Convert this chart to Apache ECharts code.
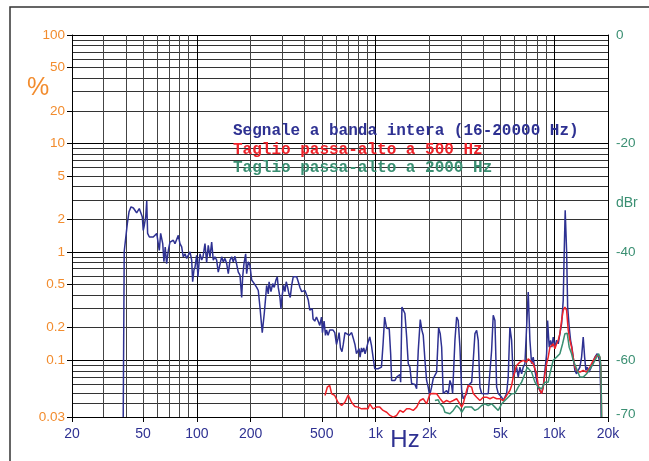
<!DOCTYPE html>
<html><head><meta charset="utf-8">
<script src="https://cdn.jsdelivr.net/npm/echarts@6/dist/echarts.min.js"></script>
<style>html,body{margin:0;padding:0;background:#fff}#c{width:649px;height:461px}</style>
</head><body><div id="c"></div>
<script>
// ---- tick / grid values ----
const xGridValues = [20,30,40,50,60,70,80,90,100,200,300,400,500,600,700,800,900,1000,2000,3000,4000,5000,6000,7000,8000,9000,10000,20000];
const xTickLabels = [20,50,100,200,500,1000,2000,5000,10000,20000];
const yGridValues = [0.03,0.04,0.05,0.06,0.07,0.08,0.09,0.1,0.2,0.3,0.4,0.5,0.6,0.7,0.8,0.9,1,2,3,4,5,6,7,8,9,10,20,30,40,50,60,70,80,90,100];
const yTickLabels = [0.03,0.1,0.2,0.5,1,2,5,10,20,50,100];
const dbTickLabels = [0,-20,-40,-60,-70];

// ---- series names ----
const nameFull = 'Segnale a banda intera (16-20000 Hz)';
const name500 = 'Taglio passa-alto a 500 Hz';
const name2000 = 'Taglio passa-alto a 2000 Hz';

// ---- full band signal (Hz, %) ----
const fullFreq = [38.7,39.2,40.1,40.8,41.7,42.8,44.1,45.0,46.0,47.6,48.7,49.5,50.1,50.8,51.7,52.4,53.0,54.2,55.6,57.0,58.3,59.6,60.8,61.6,62.7,63.5,64.4,65.4,66.5,67.7,69.2,70.7,72.3,73.8,75.4,77.1,78.7,80.4,82.2,83.9,85.8,87.7,89.5,91.5,93.5,94.7,96.3,97.6,99.7,101.4,103.1,104.1,106.4,108.2,111.0,113.4,115.8,118.4,121.0,123.5,126.2,129.0,131.7,137.6,140.5,143.6,146.8,149.9,153.2,156.6,159.8,163.4,167.0,170.5,174.3,178.1,180.4,183.5,187.5,189.9,193.9,198.2,202.6,209.5,216.1,220.6,225.4,232.2,238.3,242.6,245.7,250.9,253.6,259.8,265.6,271.0,277.1,281.8,285.4,291.7,295.5,300.4,306.0,311.2,316.4,322.2,327.6,333.1,339.2,346.3,361.8,369.4,377.5,385.9,393.9,402.6,411.5,420.1,428.4,442.3,447.0,456.9,467.0,476.8,487.3,498.1,504.6,515.1,524.5,531.3,542.4,554.4,578.4,591.3,604.4,616.9,625,636.4,648.6,659.6,674.2,689.1,712.6,734.9,750.1,766.8,782.0,798.1,808.5,819.0,834.1,844.9,859,873.7,889.5,908.1,928.2,948.7,968.5,989.9,1012,1033,1056,1079,1102,1124,1154,1178,1193,1215,1230,1256,1284,1312,1340,1369,1382,1405,1429,1460,1493,1524,1557,1592,1625,1661,1698,1734,1779,1818,1849,1890,1931,1971,2007,2059,2102,2149,2197,2254,2301,2344,2392,2445,2499,2552,2608,2666,2700,2782,2843,2902,2967,3033,3095,3164,3234,3302,3375,3450,3522,3600,3680,3756,3839,3924,4094,4272,4367,4463,4557,4658,4761,4861,4968,5078,5183,5298,5415,5527,5649,5775,5895,6026,6159,6288,6427,6569,6707,6855,7007,7154,7311,7473,7628,7798,7971,8136,8317,8501,8678,8871,9068,9183,9376,9545,9706,9871,10090,10310,10530,10760,11000,11230,11380,11520,11730,11890,12130,12350,12560,12770,13050,13340,13620,13920,14230,14530,14800,15040,15300,15640,15980,16400,16890,17400,17720,18020,18180,18320];
const fullPct = [0.03,1.01,1.03,1.82,2.34,2.60,2.54,2.42,2.29,2.51,2.60,2.10,1.58,1.76,2.10,2.95,1.48,1.37,1.42,1.37,1.33,1.48,1.53,1.03,1.48,1.53,1.19,0.81,1.11,0.78,1.03,1.23,1.19,1.28,1.19,1.15,1.42,1.19,1.11,0.90,0.96,0.87,0.90,1.0,0.84,0.53,0.68,0.72,0.93,0.59,0.84,0.96,0.84,0.90,1.19,0.80,1.15,0.90,1.23,0.84,0.90,0.84,0.65,0.90,0.81,0.87,0.78,0.63,0.84,0.90,0.81,0.91,0.91,0.65,0.61,0.38,0.59,0.78,0.96,0.63,0.81,0.75,0.55,0.51,0.47,0.44,0.31,0.18,0.27,0.38,0.49,0.41,0.53,0.43,0.51,0.47,0.55,0.59,0.47,0.38,0.30,0.40,0.49,0.43,0.53,0.47,0.41,0.38,0.49,0.59,0.59,0.53,0.47,0.43,0.44,0.44,0.40,0.36,0.29,0.30,0.24,0.23,0.25,0.23,0.21,0.25,0.18,0.23,0.17,0.19,0.17,0.19,0.19,0.18,0.14,0.16,0.18,0.13,0.12,0.14,0.18,0.18,0.17,0.18,0.16,0.14,0.115,0.111,0.128,0.107,0.13,0.119,0.13,0.115,0.128,0.147,0.164,0.137,0.107,0.0836,0.0806,0.0836,0.0806,0.0865,0.142,0.25,0.197,0.19,0.195,0.115,0.0652,0.0629,0.0652,0.070,0.0675,0.074,0.0629,0.31,0.31,0.27,0.164,0.093,0.0865,0.061,0.0586,0.0598,0.0548,0.123,0.237,0.189,0.17,0.10,0.0652,0.0565,0.0474,0.0565,0.0676,0.0725,0.0778,0.20,0.176,0.132,0.0494,0.0494,0.0527,0.0491,0.0652,0.0586,0.0494,0.153,0.25,0.233,0.132,0.0527,0.0442,0.0426,0.0491,0.0586,0.0608,0.0629,0.0997,0.176,0.189,0.153,0.0565,0.0494,0.0491,0.0491,0.0491,0.123,0.26,0.233,0.0565,0.0494,0.0491,0.0457,0.0426,0.0457,0.0494,0.070,0.2025,0.153,0.070,0.0676,0.0865,0.070,0.0865,0.0751,0.0865,0.093,0.093,0.426,0.153,0.093,0.107,0.0806,0.0652,0.0565,0.0527,0.0494,0.0565,0.0806,0.115,0.233,0.132,0.153,0.132,0.164,0.132,0.153,0.142,0.176,0.218,0.357,1.03,2.42,1.03,0.31,0.2025,0.153,0.132,0.107,0.0806,0.0751,0.0806,0.0865,0.107,0.164,0.107,0.0806,0.0865,0.0778,0.0836,0.093,0.107,0.115,0.107,0.093,0.0565,0.03];

// ---- high-pass 500 Hz (Hz, %) ----
const hp500Freq = [521,537,554,568,591,617,646,674,703,735,767,798,834,872,908,928,949,968,1012,1056,1102,1154,1204,1256,1312,1369,1429,1493,1557,1625,1698,1772,1849,1931,2016,2102,2197,2292,2392,2499,2608,2722,2843,2967,3033,3095,3164,3234,3302,3375,3450,3522,3680,3839,3924,4005,4184,4367,4557,4761,4968,5183,5415,5649,5775,5895,6159,6427,6707,7007,7154,7311,7628,7971,8136,8317,8501,8678,8871,9068,9257,9461,9871,10090,10310,10530,10760,11000,11230,11480,11730,11980,12240,12510,12770,13050,13340,13620,13920,14530,15190,15840,16530,17270,17720,18020,18250,18420];
const hp500Pct = [0.0474,0.0565,0.0586,0.0491,0.0474,0.0408,0.0383,0.0411,0.0479,0.0408,0.0375,0.0370,0.0357,0.0359,0.0357,0.0397,0.0411,0.0357,0.0370,0.0370,0.0345,0.0332,0.0310,0.0299,0.0310,0.0345,0.0332,0.0357,0.0357,0.0345,0.0370,0.0426,0.0442,0.0397,0.0491,0.0494,0.0491,0.0445,0.0408,0.0426,0.0411,0.0426,0.0442,0.0397,0.0370,0.0397,0.0457,0.0527,0.0586,0.0586,0.0565,0.0494,0.0457,0.0426,0.0442,0.0457,0.0457,0.0442,0.0457,0.0442,0.0442,0.0426,0.0474,0.0527,0.0586,0.070,0.0897,0.0962,0.10,0.0962,0.1034,0.10,0.093,0.0751,0.0586,0.0527,0.0494,0.0565,0.0751,0.093,0.107,0.132,0.142,0.128,0.142,0.153,0.176,0.233,0.289,0.31,0.289,0.19,0.153,0.132,0.107,0.0865,0.0806,0.0778,0.0778,0.0806,0.0778,0.0865,0.10,0.111,0.115,0.107,0.0865,0.03];

// ---- high-pass 2000 Hz (Hz, %) ----
const hp2000Freq = [2149,2243,2292,2392,2445,2499,2608,2722,2843,2967,3033,3095,3164,3302,3450,3600,3680,3756,3924,4094,4272,4463,4658,4861,4968,5078,5298,5527,5775,6026,6288,6569,6855,7063,7247,7473,7798,8136,8501,8871,9257,9461,9871,10310,10760,11140,11480,11820,12130,12510,12770,13340,13920,14530,15190,15840,16530,17270,17720,18020,18250,18420];
const hp2000Pct = [0.0426,0.0433,0.0397,0.0370,0.0332,0.0321,0.0321,0.0345,0.0383,0.0357,0.0332,0.0332,0.0370,0.0370,0.0370,0.0345,0.0332,0.0357,0.0383,0.0397,0.0383,0.0397,0.0370,0.0345,0.0357,0.0397,0.0426,0.0457,0.0491,0.0494,0.0565,0.0629,0.0751,0.0865,0.0897,0.0778,0.0629,0.0565,0.0546,0.0629,0.0629,0.0751,0.10,0.107,0.115,0.142,0.176,0.178,0.132,0.115,0.10,0.0836,0.070,0.070,0.0751,0.0836,0.093,0.107,0.115,0.107,0.0865,0.03];

const zip = (a, b) => a.map((v, i) => [v, b[i]]);
const BLUE = '#2e3192', RED = '#ee2229', GREEN = '#3a8f72', ORANGE = '#f28c2e';
const isDecade = v => Math.abs(Math.log10(v) - Math.round(Math.log10(v))) < 1e-9;
const xGridColors = xGridValues.map(v => isDecade(v) ? '#000' : '#444');
const yGridColors = yGridValues.map(v => isDecade(v) ? '#000' : '#333');
const clean = v => Number(Number(v).toPrecision(6));
const fmtHz = v => { v = clean(v); return v >= 1000 ? (v / 1000) + 'k' : String(v); };
const dbMin = 20 * Math.log10(0.03 / 100);

const chart = echarts.init(document.getElementById('c'), null, {renderer: 'canvas'});
chart.setOption({
  animation: false,
  backgroundColor: '#fff',
  grid: {left: 72, right: 41, top: 35, bottom: 44, containLabel: false},
  legend: {
    orient: 'vertical', left: 223, top: 117, icon: 'none', itemWidth: 0, itemHeight: 10, itemGap: 0,
    selectedMode: false,
    textStyle: {fontFamily: 'Liberation Mono', fontWeight: 'bold', fontSize: 16, lineHeight: 18.5},
    data: [
      {name: nameFull, textStyle: {color: BLUE}},
      {name: name500, textStyle: {color: RED}},
      {name: name2000, textStyle: {color: GREEN}}
    ]
  },
  xAxis: [
    {type: 'log', logBase: 10, min: 20, max: 20000, position: 'bottom',
     axisLine: {show: true, onZero: false, lineStyle: {color: '#000', width: 1}},
     axisTick: {show: true, length: 5, customValues: xTickLabels, lineStyle: {color: '#000'}},
     axisLabel: {customValues: xTickLabels, formatter: fmtHz, color: BLUE, fontSize: 14, fontFamily: 'Liberation Sans', margin: 10},
     splitLine: {show: false}},
    {type: 'log', logBase: 10, min: 20, max: 20000, position: 'bottom',
     axisLine: {show: false, onZero: false},
     axisTick: {show: false, customValues: xGridValues},
     axisLabel: {show: false},
     splitLine: {show: true, lineStyle: {color: xGridColors, width: 1}}}
  ],
  yAxis: [
    {type: 'log', logBase: 10, min: 0.03, max: 100, position: 'left',
     axisLine: {show: true, onZero: false, lineStyle: {color: '#000', width: 1}},
     axisTick: {show: true, length: 5, customValues: yTickLabels, lineStyle: {color: '#000'}},
     axisLabel: {customValues: yTickLabels, formatter: v => String(clean(v)), color: ORANGE, fontSize: 13.5, fontFamily: 'Liberation Sans', margin: 7},
     splitLine: {show: false}},
    {type: 'log', logBase: 10, min: 0.03, max: 100, position: 'left',
     axisLine: {show: false, onZero: false},
     axisTick: {show: false, customValues: yGridValues},
     axisLabel: {show: false},
     splitLine: {show: true, lineStyle: {color: yGridColors, width: 1}}},
    {type: 'value', min: dbMin, max: 0, position: 'right',
     axisLine: {show: true, onZero: false, lineStyle: {color: '#000', width: 1}},
     axisTick: {show: false, customValues: dbTickLabels},
     axisLabel: {customValues: dbTickLabels, color: GREEN, fontSize: 13.5, fontFamily: 'Liberation Sans', margin: 8},
     splitLine: {show: false}}
  ],
  series: [
    {name: nameFull, type: 'line', xAxisIndex: 0, yAxisIndex: 0, data: zip(fullFreq, fullPct),
     symbol: 'none', showSymbol: false, lineStyle: {color: BLUE, width: 1.5}, itemStyle: {color: BLUE}, z: 3},
    {name: name500, type: 'line', xAxisIndex: 0, yAxisIndex: 0, data: zip(hp500Freq, hp500Pct),
     symbol: 'none', showSymbol: false, lineStyle: {color: RED, width: 1.5}, itemStyle: {color: RED}, z: 4},
    {name: name2000, type: 'line', xAxisIndex: 0, yAxisIndex: 0, data: zip(hp2000Freq, hp2000Pct),
     symbol: 'none', showSymbol: false, lineStyle: {color: GREEN, width: 1.5}, itemStyle: {color: GREEN}, z: 5}
  ],
  graphic: [
    {type: 'rect', silent: true, shape: {x: 10, y: 7, width: 700, height: 500}, style: {fill: 'none', stroke: '#333', lineWidth: 1.5}},
    {type: 'text', silent: true, x: 38, y: 88, style: {text: '%', fill: ORANGE, fontSize: 25, fontFamily: 'Liberation Sans', align: 'center', verticalAlign: 'middle'}},
    {type: 'text', silent: true, x: 405, y: 440, style: {text: 'Hz', fill: BLUE, fontSize: 24, fontFamily: 'Liberation Sans', align: 'center', verticalAlign: 'middle'}},
    {type: 'text', silent: true, x: 616, y: 203, style: {text: 'dBr', fill: GREEN, fontSize: 14, fontFamily: 'Liberation Sans', align: 'left', verticalAlign: 'middle'}}
  ]
});
</script></body></html>
